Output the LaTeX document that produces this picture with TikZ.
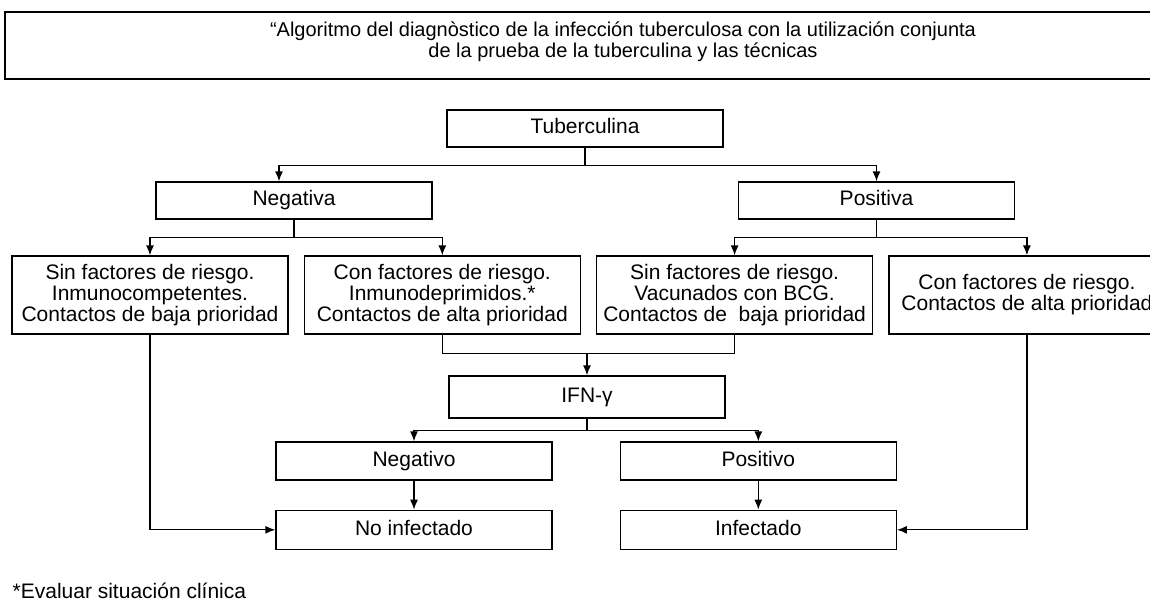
\documentclass[tikz,border=0pt]{standalone}
\usepackage{fontspec}
\setmainfont{Liberation Sans}
\usetikzlibrary{arrows.meta, positioning, calc}
\tikzstyle{line} = [draw, -{Latex[length=5pt, width=4pt]}]

\begin{document}
\begin{tikzpicture}[x=0.5pt, y=-0.5pt, line width=0.65pt, font=\fontsize{10.5pt}{10.5pt}\selectfont]
  % Define styles
  \tikzstyle{single} = [rectangle, draw=black, minimum width=138pt, minimum height=18.5pt, inner sep=0pt, text height=7.6pt, text depth=2.2pt, text centered]
  \tikzstyle{triple} = [rectangle, draw=black, minimum width=138pt, minimum height=39pt, inner sep=0pt, align=center]
  \tikzstyle{heading} = [rectangle, draw=black, minimum width=617.5pt, minimum height=33.5pt]

  \path [use as bounding box, clip] (0,0) rectangle (1150,602);

  % Title
  \node [heading] (title) at (622.5,45.5) {};
  \node [align=center, font=\fontsize{10pt}{8.5pt}\selectfont] (titletext) at (623,42) {“Algoritmo del diagnòstico de la infección tuberculosa con la utilización conjunta\\de la prueba de la tuberculina y las técnicas};

  % Place nodes
  \node [single] (tuberculina) at (585,128.5) {Tuberculina};
  \node [single] (negativa) at (294,200.5) {Negativa};
  \node [single] (positiva) at (876.5,200.5) {Positiva};
  \node [triple] (sinbaja) at (150,295) {Sin factores de riesgo.\\Inmunocompetentes.\\Contactos de baja prioridad};
  \node [triple, right=7.5pt of sinbaja] (conalta) {Con factores de riesgo.\\Inmunodeprimidos.*\\Contactos de alta prioridad};
  \node [triple, right=7.5pt of conalta] (sinbcg) {Sin factores de riesgo.\\Vacunados con BCG.\\Contactos de~ baja prioridad};
  \node [triple, right=7.5pt of sinbcg] (conprio) {Con factores de riesgo.\\Contactos de alta prioridad};
  \node [single, minimum height=21pt] (ifn) at (587,397) {IFN-γ};
  \node [single, minimum height=19pt] (negativo) at (414,461) {Negativo};
  \node [single, minimum height=19pt, right=33.5pt of negativo] (positivo) {Positivo};
  \node [single, minimum height=19.5pt, below=14.5pt of negativo] (noinf) {No infectado};
  \node [single, minimum height=19.5pt, below=14.5pt of positivo] (inf) {Infectado};
  \node [anchor=base west, inner sep=0pt] (nota) at (12,598) {*Evaluar situación clínica};

  % Draw edges
  \path [line] (tuberculina.south) -- ++(0,18) -| ([xshift=-7.5pt]negativa.north);
  \path [line] (tuberculina.south) -- ++(0,18) -| (positiva.north);
  \path [line] (negativa.south) -- ++(0,18) -| (sinbaja.north);
  \path [line] (negativa.south) -- ++(0,18) -| (conalta.north);
  \path [line] (positiva.south) -- ++(0,18) -| (sinbcg.north);
  \path [line] (positiva.south) -- ++(0,18) -| (conprio.north);
  \coordinate (merge) at ($(conalta.south)+(0,19)$);
  \draw (conalta.south) -- (merge) -| (sinbcg.south);
  \path [line] (merge -| ifn.north) -- (ifn.north);
  \path [line] (ifn.south) -- ++(0,12) -| (negativo.north);
  \path [line] (ifn.south) -- ++(0,12) -| (positivo.north);
  \path [line] (negativo) -- (noinf);
  \path [line] (positivo) -- (inf);
  \path [line] (sinbaja.south) |- (noinf.west);
  \path [line] (conprio.south) |- (inf.east);

\end{tikzpicture}
\end{document}
